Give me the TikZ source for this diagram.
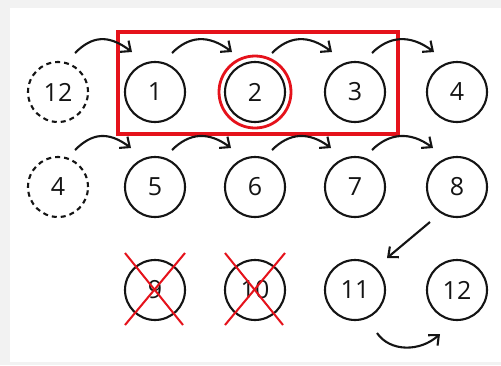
\documentclass[tikz,border=0pt]{standalone}
\usepackage{fontspec}
\setmainfont{Open Sans}
\usetikzlibrary{arrows.meta}
\definecolor{ink}{HTML}{141414}
\definecolor{redbox}{HTML}{E5121B}
\tikzset{
  num/.style={circle, draw=ink, line width=2.1pt, minimum size=60pt, inner sep=0pt, font=\fontsize{25}{25}\selectfont, text=ink},
  ghost/.style={num, dashed, dash pattern=on 5pt off 4pt},
  hop/.style={draw=ink, line width=2.1pt, -{Straight Barb[length=8pt,width=14pt,line width=2.1pt]}},
  cross/.style={draw=redbox, line width=2pt},
}
\begin{document}
\begin{tikzpicture}[x=1pt,y=-1pt]
\fill[gray!10] (0,0) rectangle (501,365);
\fill[white] (10,8) rectangle (501,362);
\useasboundingbox (0,0) rectangle (501,365);
% row 1
\node[ghost] (a12) at (58,92) {12};
\node[num] (n1) at (155,92) {1};
\node[num] (n2) at (255,92) {2};
\node[num] (n3) at (355,92) {3};
\node[num] (n4) at (457,92) {4};
% row 2
\node[ghost] (a4) at (58,187) {4};
\node[num] (n5) at (155,187) {5};
\node[num] (n6) at (255,187) {6};
\node[num] (n7) at (355,187) {7};
\node[num] (n8) at (457,187) {8};
% row 3
\node[num] (n9) at (155,290) {9};
\node[num] (n10) at (255,290) {10};
\node[num] (n11) at (355,290) {11};
\node[num] (n12) at (457,290) {12};
% red highlights
\node[draw=redbox, line width=3.2pt, minimum width=280pt, minimum height=102pt, inner sep=0pt] (box) at (258,83) {};
\node[circle, draw=redbox, line width=2.8pt, minimum size=72pt, inner sep=0pt] (ring) at (n2) {};
\draw[cross] ([shift={(-30,-37)}]n9.center) -- ([shift={(28,35)}]n9.center);
\draw[cross] ([shift={(30,-37)}]n9.center) -- ([shift={(-30,35)}]n9.center);
\draw[cross] ([shift={(-30,-37)}]n10.center) -- ([shift={(28,35)}]n10.center);
\draw[cross] ([shift={(30,-37)}]n10.center) -- ([shift={(-30,35)}]n10.center);
% hop arrows row 1
\foreach \s/\t in {a12/n1, n1/n2, n2/n3, n3/n4}{
  \draw[hop] ([shift={(17,-39)}]\s.center) .. controls ([shift={(34,-56)}]\s.center) and ([shift={(-47,-58)}]\t.center) .. ([shift={(-23,-40)}]\t.center);
}
% hop arrows row 2
\foreach \s/\t in {a4/n5, n5/n6, n6/n7, n7/n8}{
  \draw[hop] ([shift={(17,-37)}]\s.center) .. controls ([shift={(34,-54)}]\s.center) and ([shift={(-47,-56)}]\t.center) .. ([shift={(-24,-39)}]\t.center);
}
% 8 -> 11
\draw[hop] ([shift={(-27,35)}]n8.center) -- ([shift={(32,-32)}]n11.center);
% 11 -> 12 below
\draw[hop] ([shift={(22,43)}]n11.center) .. controls ([shift={(35,62)}]n11.center) and ([shift={(-37,62)}]n12.center) .. ([shift={(-17,44)}]n12.center);
\end{tikzpicture}
\end{document}
